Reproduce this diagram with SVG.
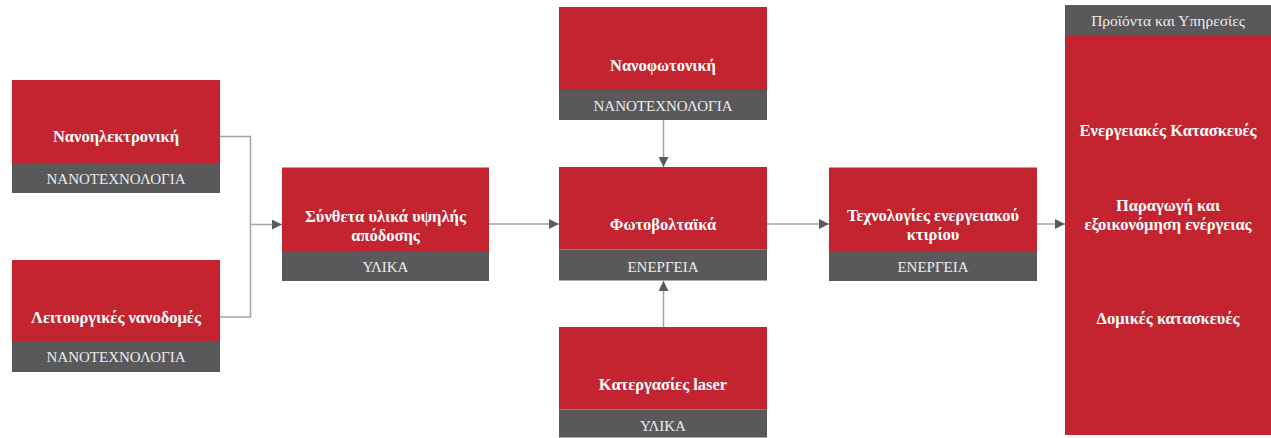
<svg xmlns="http://www.w3.org/2000/svg" width="1271" height="438" viewBox="0 0 1271 438">
<defs>
<style>
.red{fill:#C3242F}
.gray{fill:#59595B}
.t{font-family:"Liberation Serif","DejaVu Serif",serif;font-weight:bold;font-size:16.5px;fill:#FFFFFF;text-anchor:middle}
.s{font-family:"Liberation Serif","DejaVu Serif",serif;font-size:15px;fill:#ECECEC;text-anchor:middle}
.h{font-family:"Liberation Serif","DejaVu Serif",serif;font-size:15.5px;fill:#ECECEC;text-anchor:middle}
.c{fill:none;stroke:#A3A5A7;stroke-width:1.5}
</style>
<marker id="ah" viewBox="0 0 10 10" refX="10" refY="5" markerWidth="10" markerHeight="10" markerUnits="userSpaceOnUse" orient="auto">
<path d="M0,0 L10,5 L0,10 Z" fill="#5A5C5E"/>
</marker>
</defs>
<rect width="1271" height="438" fill="#FFFFFF"/>
<g id="connectors">
<path class="c" d="M220,136.5 H250.5 V317 H220"/>
<path class="c" d="M250.5,224.5 H282" marker-end="url(#ah)"/>
<path class="c" d="M489,224 H559" marker-end="url(#ah)"/>
<path class="c" d="M663.5,120 V167" marker-end="url(#ah)"/>
<path class="c" d="M663.5,327 V281" marker-end="url(#ah)"/>
<path class="c" d="M767,224 H829" marker-end="url(#ah)"/>
<path class="c" d="M1037,224 H1065" marker-end="url(#ah)"/>
</g>
<g id="nanoelectroniki">
<rect class="red" x="12" y="80" width="208" height="83"/>
<rect class="gray" x="12" y="163" width="208" height="30"/>
<text class="t" x="116" y="141.5">Νανοηλεκτρονική</text>
<text class="s" x="116" y="183.5">ΝΑΝΟΤΕΧΝΟΛΟΓΙΑ</text>
</g>
<g id="leitourgikes">
<rect class="red" x="12" y="260" width="208" height="82"/>
<rect class="gray" x="12" y="342" width="208" height="30"/>
<text class="t" x="116" y="322.5">Λειτουργικές νανοδομές</text>
<text class="s" x="116" y="362">ΝΑΝΟΤΕΧΝΟΛΟΓΙΑ</text>
</g>
<g id="syntheta">
<rect class="red" x="282" y="167.5" width="207" height="83.5"/>
<rect class="gray" x="282" y="251" width="207" height="30"/>
<text class="t" x="385.5" y="222">Σύνθετα υλικά υψηλής</text>
<text class="t" x="385.5" y="240.5">απόδοσης</text>
<text class="s" x="385.5" y="271.5">ΥΛΙΚΑ</text>
</g>
<g id="nanofotoniki">
<rect class="red" x="559" y="7" width="208" height="83"/>
<rect class="gray" x="559" y="90" width="208" height="30"/>
<text class="t" x="663" y="70.5">Νανοφωτονική</text>
<text class="s" x="663" y="110.5">ΝΑΝΟΤΕΧΝΟΛΟΓΙΑ</text>
</g>
<g id="fotovoltaika">
<rect class="red" x="559" y="167" width="208" height="82.5"/>
<rect class="gray" x="559" y="249.5" width="208" height="31"/>
<text class="t" x="663" y="229.5">Φωτοβολταϊκά</text>
<text class="s" x="663" y="271.5">ΕΝΕΡΓΕΙΑ</text>
</g>
<g id="laser">
<rect class="red" x="559" y="327" width="208" height="82.5"/>
<rect class="gray" x="559" y="409.5" width="208" height="28"/>
<text class="t" x="663" y="389.5">Κατεργασίες laser</text>
<text class="s" x="663" y="430.5">ΥΛΙΚΑ</text>
</g>
<g id="technologies">
<rect class="red" x="829" y="167.5" width="208" height="83.5"/>
<rect class="gray" x="829" y="251" width="208" height="30"/>
<text class="t" x="933" y="220.5">Τεχνολογίες ενεργειακού</text>
<text class="t" x="933" y="239.5">κτιρίου</text>
<text class="s" x="933" y="271.5">ΕΝΕΡΓΕΙΑ</text>
</g>
<g id="products">
<rect class="gray" x="1065" y="5" width="206" height="30"/>
<rect class="red" x="1065" y="35" width="206" height="400"/>
<text class="h" x="1168" y="26">Προϊόντα και Υπηρεσίες</text>
<text class="t" x="1168" y="135.5">Ενεργειακές Κατασκευές</text>
<text class="t" x="1168" y="210.5">Παραγωγή και</text>
<text class="t" x="1168" y="229.5">εξοικονόμηση ενέργειας</text>
<text class="t" x="1168" y="323.5">Δομικές κατασκευές</text>
</g>
</svg>
